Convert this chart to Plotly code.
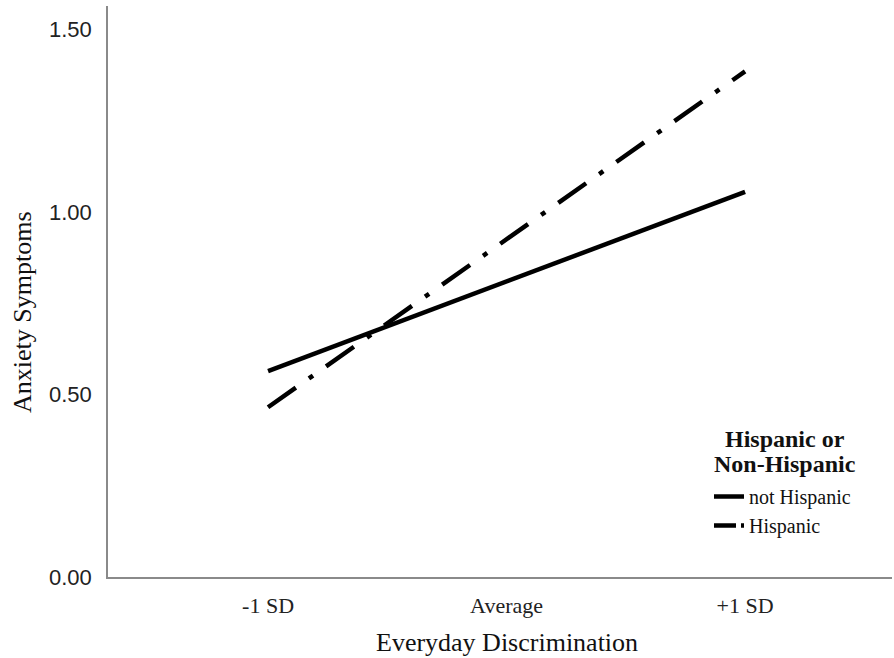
import plotly.graph_objects as go

categories = ["-1 SD", "Average", "+1 SD"]
x_pos = [0, 1, 2]
not_hispanic = [0.564, 0.810, 1.055]
hispanic = [0.465, 0.925, 1.385]
y_ticks = [0.0, 0.5, 1.0, 1.5]
y_ticktext = ["0.00", "0.50", "1.00", "1.50"]
legend_names = ["not Hispanic", "Hispanic"]

serif = "Liberation Serif, Times New Roman, serif"
sans = "Liberation Sans, Arial, sans-serif"

L, R, T, B = 108, 2, 6, 81
W, H = 894, 658
pw, ph = W - L - R, H - T - B

def px_x(p):
    return (p - L) / pw

def px_y(p):
    return (H - B - p) / ph

fig = go.Figure()
fig.add_trace(go.Scatter(x=x_pos, y=not_hispanic, mode="lines", name=legend_names[0],
                         showlegend=False, line=dict(color="black", width=4.5)))
fig.add_trace(go.Scatter(x=x_pos, y=hispanic, mode="lines", name=legend_names[1],
                         showlegend=False,
                         line=dict(color="black", width=4.5, dash="34px,16px,5px,16px")))
# legend entries (same series, legend-sized dash pattern)
fig.add_trace(go.Scatter(x=[None], y=[None], mode="lines", name=legend_names[0],
                         line=dict(color="black", width=4.5)))
fig.add_trace(go.Scatter(x=[None], y=[None], mode="lines", name=legend_names[1],
                         line=dict(color="black", width=4.5, dash="22px,5px,4px,20px")))

fig.update_layout(
    width=W, height=H,
    margin=dict(l=L, r=R, t=T, b=B),
    plot_bgcolor="white", paper_bgcolor="white",
    showlegend=True,
    legend=dict(x=px_x(709), y=px_y(477), xanchor="left", yanchor="top",
                font=dict(family=serif, size=20, color="#111"),
                itemwidth=30, tracegroupgap=0, bgcolor="rgba(0,0,0,0)"),
    xaxis=dict(range=[-0.671, 2.616], tickvals=x_pos, ticktext=categories,
               showgrid=False, zeroline=False, showline=True, linecolor="#8a8a8a", linewidth=1.5,
               ticks="", ticklabelstandoff=8,
               tickfont=dict(family=serif, size=22, color="#222")),
    yaxis=dict(range=[0, 1.564], tickvals=y_ticks, ticktext=y_ticktext,
               showgrid=False, zeroline=False, showline=True, linecolor="#8a8a8a", linewidth=1.5,
               ticks="", ticklabelstandoff=10,
               tickfont=dict(family=sans, size=22, color="#222")),
    annotations=[
        dict(text="Everyday Discrimination", xref="paper", yref="paper", x=px_x(507), y=px_y(642),
             xanchor="center", yanchor="middle", showarrow=False,
             font=dict(family=serif, size=26, color="#111")),
        dict(text="Anxiety Symptoms", xref="paper", yref="paper", x=px_x(22), y=px_y(312),
             xanchor="center", yanchor="middle", showarrow=False, textangle=-90,
             font=dict(family=serif, size=26, color="#111")),
        dict(text="<b>Hispanic or</b>", xref="paper", yref="paper", x=px_x(785), y=px_y(439),
             xanchor="center", yanchor="middle", showarrow=False,
             font=dict(family=serif, size=24, color="#111")),
        dict(text="<b>Non-Hispanic</b>", xref="paper", yref="paper", x=px_x(785), y=px_y(464),
             xanchor="center", yanchor="middle", showarrow=False,
             font=dict(family=serif, size=24, color="#111")),
    ],
)

fig.write_html("out.html", config={"displayModeBar": False},
               post_script="document.body.style.margin='0';")
